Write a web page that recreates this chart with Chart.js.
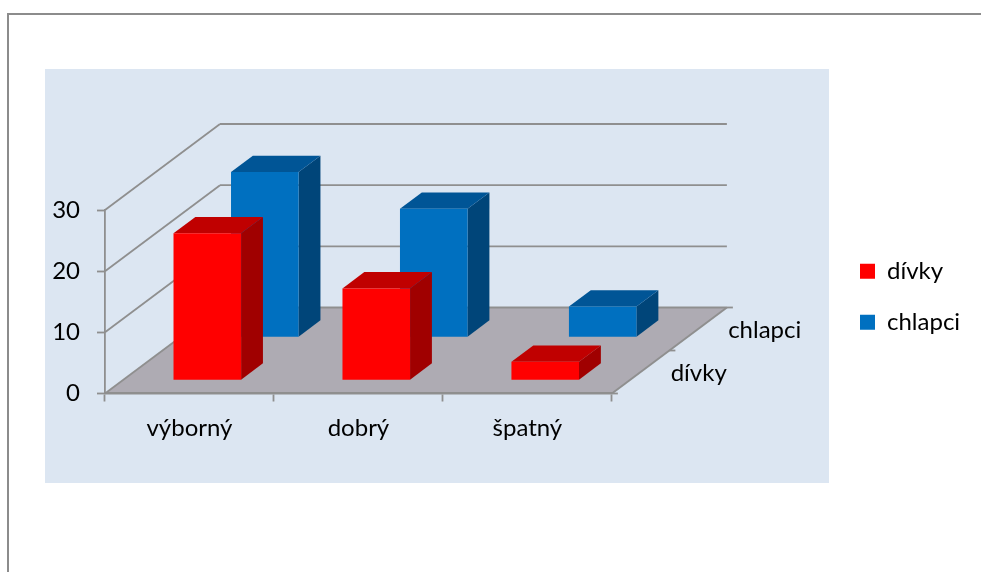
<!DOCTYPE html>
<html>
<head>
<meta charset="utf-8">
<title>Prospěch</title>
<script src="https://cdn.jsdelivr.net/npm/chart.js@4"></script>
<style>
  html, body { margin: 0; padding: 0; background: #fff; overflow: hidden; }
  #frame { position: absolute; left: 7px; top: 13px; right: 0; bottom: 0; border-left: 2px solid #8c8c8c; border-top: 2px solid #8c8c8c; }
  #panel { position: absolute; left: 45px; top: 69px; width: 784px; height: 414px; background: #dce6f2; }
  #myChart { position: absolute; left: 0; top: 0; }
</style>
</head>
<body>
<div id="frame"></div>
<div id="panel"></div>
<canvas id="myChart" width="981" height="572"></canvas>
<script>
const categories = ["výborný", "dobrý", "špatný"];
const divky = [24, 15, 3];
const chlapci = [27, 21, 5];
const seriesNames = ["dívky", "chlapci"];

// 3d look
const depthX = 115;
const depthY = -86;
const barDepth = 0.19;
const frontColors = ["#ff0000", "#0070c0"];
const topColors = ["#c00000", "#005596"];
const sideColors = ["#a00000", "#004579"];
const gridColor = "#8f8f8f";
const floorColor = "#aeabb3";
const fontName = "Lato, 'Open Sans', sans-serif";
const fontSize = 24;

function poly(ctx, pts, color) {
	ctx.fillStyle = color;
	ctx.beginPath();
	pts.forEach((p, i) => i ? ctx.lineTo(p[0], p[1]) : ctx.moveTo(p[0], p[1]));
	ctx.closePath();
	ctx.fill();
}

function line(ctx, x1, y1, x2, y2, width) {
	ctx.strokeStyle = gridColor;
	ctx.lineWidth = width;
	ctx.beginPath();
	ctx.moveTo(x1, y1);
	ctx.lineTo(x2, y2);
	ctx.stroke();
}

const depthPlugin = {
	id: "depth3d",
	// walls and floor go behind the axes
	beforeDraw(chart) {
		const { ctx, chartArea: area, scales } = chart;
		ctx.save();
		poly(ctx, [
			[area.left, area.bottom],
			[area.right, area.bottom],
			[area.right + depthX, area.bottom + depthY],
			[area.left + depthX, area.bottom + depthY],
		], floorColor);
		scales.y.ticks.forEach((t) => {
			const y = scales.y.getPixelForValue(t.value);
			line(ctx, area.left, y, area.left + depthX, y + depthY, 1.8);
			line(ctx, area.left + depthX, y + depthY, area.right + depthX, y + depthY, 1.8);
		});
		line(ctx, area.right, area.bottom, area.right + depthX, area.bottom + depthY, 2);
		// ticks and labels of the depth axis
		[0, 0.5, 1].forEach((f) => {
			const x = area.right + depthX * f;
			const y = area.bottom + depthY * f;
			line(ctx, x, y, x + 6, y, 1.8);
		});
		ctx.fillStyle = "#000";
		ctx.font = fontSize + "px " + fontName;
		ctx.textBaseline = "middle";
		seriesNames.forEach((name, i) => {
			const f = 0.25 + i * 0.5;
			ctx.fillText(name, area.right + depthX * f + 30, area.bottom + depthY * f + 1);
		});
		ctx.restore();
	},
	// push each series back to its own row
	afterDatasetsUpdate(chart) {
		chart.data.datasets.forEach((ds, i) => {
			const f = 0.25 + i * 0.5 - barDepth / 2;
			chart.getDatasetMeta(i).data.forEach((bar) => {
				bar.x += depthX * f;
				bar.y += depthY * f;
				bar.base += depthY * f;
			});
		});
	},
	// legend sits far right of the plot, not next to it
	afterLayout(chart) {
		const legend = chart.legend;
		legend.left = 833;
		legend.right = 981;
		legend.top -= 35;
		legend.bottom -= 35;
	},
	// side and top of the bars, the front is the library's own bar
	beforeDatasetDraw(chart, args) {
		const { ctx } = chart;
		const dx = depthX * barDepth;
		const dy = depthY * barDepth;
		ctx.save();
		args.meta.data.forEach((bar) => {
			const left = bar.x - bar.width / 2;
			const right = bar.x + bar.width / 2;
			poly(ctx, [[right, bar.y], [right + dx, bar.y + dy], [right + dx, bar.base + dy], [right, bar.base]], sideColors[args.index]);
			poly(ctx, [[left, bar.y], [left + dx, bar.y + dy], [right + dx, bar.y + dy], [right, bar.y]], topColors[args.index]);
		});
		ctx.restore();
	},
};

new Chart(document.getElementById("myChart"), {
	type: "bar",
	data: {
		labels: categories,
		datasets: [
			{ label: seriesNames[0], data: divky, backgroundColor: frontColors[0], grouped: false, clip: false, barPercentage: 0.4, categoryPercentage: 1 },
			{ label: seriesNames[1], data: chlapci, backgroundColor: frontColors[1], grouped: false, clip: false, barPercentage: 0.4, categoryPercentage: 1 },
		],
	},
	options: {
		responsive: false,
		animation: false,
		layout: { padding: { left: 45, top: 210, right: 232, bottom: 118.5 } },
		plugins: {
			title: { display: false },
			tooltip: { enabled: false },
			legend: {
				position: "right",
				labels: { boxWidth: 15, boxHeight: 15, padding: 27, color: "#000", font: { family: fontName, size: fontSize } },
			},
		},
		scales: {
			x: {
				afterFit(scale) { scale.height = 60; },
				grid: { drawOnChartArea: false, tickColor: gridColor, tickLength: 8, tickWidth: 1.8 },
				border: { color: gridColor, width: 2.5 },
				ticks: { color: "#000", padding: 12, maxRotation: 0, font: { family: fontName, size: fontSize } },
			},
			y: {
				min: 0,
				max: 30,
				afterFit(scale) { scale.width = 60; },
				grid: { drawOnChartArea: false, tickColor: gridColor, tickLength: 8, tickWidth: 1.8 },
				border: { color: gridColor, width: 1.8 },
				ticks: { color: "#000", stepSize: 10, padding: 17, font: { family: fontName, size: fontSize } },
			},
		},
	},
	plugins: [depthPlugin],
});
</script>
</body>
</html>
